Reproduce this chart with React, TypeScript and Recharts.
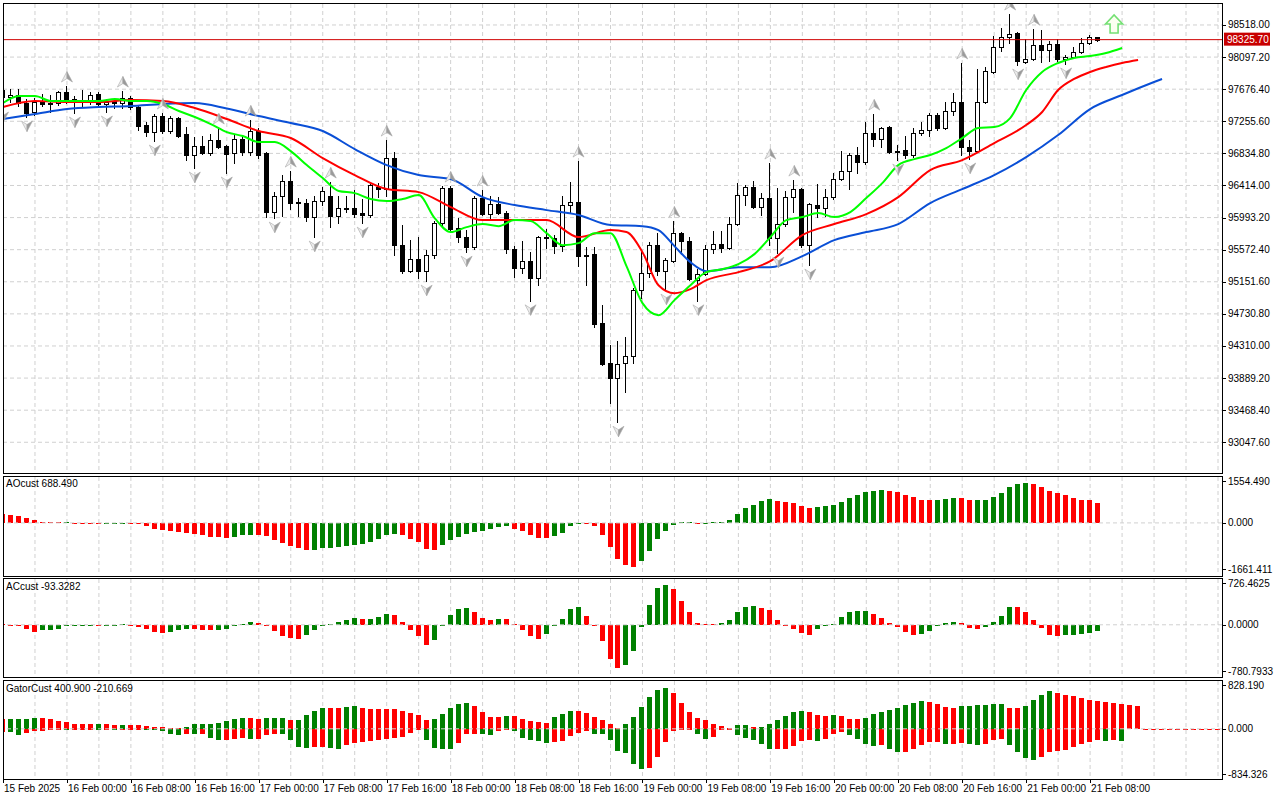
import React from 'react';
import { ComposedChart, Bar, Line, XAxis, YAxis, ReferenceLine, CartesianGrid } from 'recharts';

const FONT = '"Liberation Sans", Arial, Helvetica, sans-serif';

// ---------- hourly candles (15 Feb 16:00 ... 21 Feb 09:00) ----------
const barOpen = [
  97665, 97574, 97600, 97495, 97377, 97508, 97495, 97495, 97639, 97547,
  97534, 97534, 97613, 97482, 97521, 97495, 97560, 97442, 97206, 97114,
  97324, 97128, 97298, 97088, 96813, 96931, 96839, 97009, 96931, 96839,
  97022, 96852, 97128, 96839, 96065, 96275, 96472, 96196, 96183, 96000,
  96209, 96275, 96012, 96117, 96117, 96052, 96026, 96393, 96367, 96773,
  95634, 95299, 95456, 95299, 95501, 95921, 96380, 95855, 95737, 95604,
  96249, 96039, 96170, 96052, 95579, 95330, 95422, 95199, 95737, 95724,
  95619, 96157, 96196, 95501, 95514, 94609, 94084, 93887, 94084, 94176,
  95042, 95265, 95632, 95299, 95422, 95789, 95684, 95173, 95251, 95580,
  95645, 95593, 95908, 96288, 96393, 96130, 96249, 95724, 95908, 96262,
  96367, 95632, 96157, 96117, 96262, 96498, 96603, 96813, 96721, 97101,
  97022, 97180, 96865, 96878, 96813, 97101, 97141, 97337, 97167, 97390,
  97508, 96918, 96865, 97508, 97902, 98229, 98361, 98413, 98033, 98072,
  98256, 98190, 98269, 98072, 98098, 98164, 98282, 98354,
];
const barHigh = [
  97692, 97679, 97679, 97547, 97560, 97613, 97600, 97652, 97718, 97587,
  97665, 97639, 97639, 97547, 97560, 97652, 97587, 97455, 97246, 97350,
  97364, 97324, 97311, 97180, 97049, 97062, 97088, 97167, 96944, 97075,
  97075, 97272, 97167, 96852, 96327, 96550, 96603, 96249, 96236, 96275,
  96393, 96459, 96275, 96275, 96354, 96236, 96445, 96445, 97009, 96852,
  95894, 95698, 95737, 95566, 95947, 96406, 96406, 95986, 95829, 96275,
  96354, 96275, 96262, 96078, 95619, 95685, 95540, 95750, 95842, 95763,
  96275, 96459, 96734, 95606, 95606, 94845, 94320, 94373, 94425, 95068,
  95540, 95671, 95789, 95461, 95947, 95803, 95737, 95317, 95632, 95816,
  95816, 96000, 96445, 96419, 96472, 96314, 96708, 96380, 96341, 96485,
  96380, 96183, 96432, 96367, 96577, 96865, 96839, 96918, 97246, 97350,
  97180, 97193, 96944, 97062, 97167, 97246, 97364, 97364, 97508, 97626,
  98020, 97009, 97941, 97967, 98374, 98479, 98662, 98426, 98334, 98466,
  98452, 98308, 98334, 98125, 98229, 98348, 98387, 98361,
];
const barLow = [
  97429, 97508, 97455, 97311, 97337, 97455, 97377, 97469, 97495, 97364,
  97455, 97482, 97455, 97377, 97429, 97429, 97416, 97141, 97062, 96996,
  97101, 97101, 97049, 96747, 96642, 96826, 96813, 96905, 96577, 96708,
  96813, 96813, 96773, 95999, 95986, 96012, 96104, 96012, 95947, 95737,
  96157, 95868, 95920, 96065, 95999, 95920, 95999, 96262, 96275, 95501,
  95265, 95286, 95199, 95160, 95461, 95895, 95829, 95671, 95540, 95579,
  96026, 95986, 96039, 95527, 95212, 95265, 94902, 95107, 95593, 95527,
  95553, 96065, 95357, 95107, 94556, 94058, 93560, 93310, 93704, 94084,
  94937, 95212, 95238, 95042, 95409, 95527, 95173, 94902, 95238, 95527,
  95540, 95580, 95895, 96157, 96117, 96026, 95632, 95527, 95881, 96065,
  95606, 95370, 95999, 96012, 96236, 96485, 96367, 96577, 96695, 96931,
  96918, 96839, 96747, 96773, 96786, 97075, 97062, 97141, 97154, 97337,
  96813, 96760, 96852, 97495, 97888, 98177, 98282, 97993, 98020, 98059,
  98033, 98046, 98046, 98007, 98085, 98151, 98269, 98308,
];
const barClose = [
  97574, 97600, 97495, 97364, 97508, 97482, 97482, 97639, 97547, 97521,
  97521, 97600, 97482, 97508, 97495, 97560, 97442, 97193, 97114, 97324,
  97128, 97298, 97062, 96813, 96931, 96839, 97009, 96918, 96826, 97022,
  96852, 97128, 96813, 96065, 96275, 96472, 96183, 96183, 96000, 96209,
  96340, 96012, 96117, 96104, 96039, 96026, 96419, 96367, 96773, 95634,
  95299, 95456, 95299, 95501, 95921, 96380, 95842, 95737, 95604, 96249,
  96039, 96170, 96052, 95579, 95330, 95422, 95199, 95737, 95724, 95619,
  96157, 96196, 95488, 95495, 94596, 94071, 93887, 94071, 94176, 95042,
  95265, 95632, 95299, 95435, 95789, 95684, 95186, 95251, 95580, 95645,
  95593, 95908, 96288, 96393, 96130, 96249, 95724, 95908, 96262, 96367,
  95632, 96170, 96117, 96262, 96498, 96603, 96813, 96721, 97101, 97022,
  97167, 96852, 96852, 96813, 97101, 97141, 97337, 97167, 97390, 97508,
  96918, 96865, 97508, 97915, 98229, 98361, 98400, 98046, 98072, 98256,
  98190, 98269, 98072, 98098, 98164, 98282, 98361, 98325.7,
];

// ---------- alligator lines, read at sampled bars [bar, price] ----------
const lipsPoints: [number, number][] = [
  [0, 97495], [2, 97587], [4, 97587], [6, 97521], [8, 97521], [10, 97521], [12, 97521], [14, 97547],
  [16, 97521], [18, 97521], [20, 97482], [22, 97390], [24, 97311], [26, 97219], [28, 97114], [30, 97062],
  [32, 96983], [34, 96983], [36, 96865], [38, 96681], [40, 96511], [42, 96341], [44, 96314], [46, 96236],
  [48, 96209], [50, 96236], [52, 96288], [54, 95986], [56, 95803], [58, 95868], [60, 95908], [62, 95881],
  [64, 95960], [66, 95947], [68, 95789], [70, 95632], [72, 95658], [74, 95789], [76, 95789], [78, 95357],
  [80, 94871], [82, 94714], [84, 94911], [86, 95107], [88, 95278], [90, 95317], [92, 95383], [94, 95514],
  [96, 95737], [98, 95960], [100, 96000], [102, 96052], [104, 96000], [106, 96065], [108, 96249], [110, 96445],
  [112, 96681], [114, 96760], [116, 96813], [118, 96905], [120, 97036], [122, 97167], [124, 97180], [126, 97298],
  [128, 97665], [130, 97902], [132, 98020], [134, 98085], [136, 98111], [138, 98151], [140, 98216],
];
const teethPoints: [number, number][] = [
  [0, 97442], [4, 97521], [8, 97508], [12, 97508], [16, 97534], [20, 97521], [24, 97429], [28, 97285],
  [32, 97128], [36, 97036], [40, 96773], [44, 96550], [48, 96367], [52, 96327], [56, 96131], [60, 95960],
  [64, 95960], [68, 95960], [72, 95737], [76, 95829], [78, 95803], [80, 95540], [82, 95107], [84, 95002],
  [86, 95055], [88, 95173], [92, 95278], [96, 95422], [100, 95763], [104, 95908], [108, 96039], [112, 96262],
  [116, 96616], [120, 96747], [124, 96970], [128, 97206], [130, 97377], [132, 97665], [134, 97810], [136, 97902],
  [138, 97967], [140, 98020], [142, 98059],
];
const jawPoints: [number, number][] = [
  [0, 97285], [4, 97350], [8, 97416], [12, 97442], [16, 97455], [20, 97482], [24, 97495], [28, 97423],
  [32, 97324], [36, 97232], [40, 97128], [44, 96891], [48, 96681], [52, 96550], [56, 96498], [60, 96262],
  [64, 96157], [68, 96091], [72, 96026], [76, 95895], [80, 95881], [82, 95829], [84, 95619], [86, 95409],
  [88, 95291], [92, 95343], [96, 95343], [100, 95488], [104, 95698], [108, 95803], [112, 95908], [116, 96183],
  [120, 96367], [124, 96550], [128, 96786], [132, 97075], [136, 97416], [140, 97600], [144, 97770], [145, 97810],
];

const fractalUpBars = [8, 15, 20, 27, 31, 36, 41, 48, 56, 60, 72, 84, 96, 99, 109, 120, 126, 129];
const fractalDownBars = [0, 3, 9, 13, 19, 24, 28, 34, 39, 45, 53, 58, 66, 77, 83, 87, 97, 101, 112, 121, 127, 133];
const signalArrows = [{ bar: 139, price: 98413 }];
const currentPrice = 98325.7;

const priceTicks = [
  98518.0, 98097.2, 97676.4, 97255.6, 96834.8, 96414.0, 95993.2,
  95572.4, 95151.6, 94730.8, 94310.0, 93889.2, 93468.4, 93047.6,
];
const timeTickBars = [0, 8, 16, 24, 32, 40, 48, 56, 64, 72, 80, 88, 96, 104, 112, 120, 128, 136];
const timeLabels = [
  '15 Feb 2025', '16 Feb 00:00', '16 Feb 08:00', '16 Feb 16:00', '17 Feb 00:00', '17 Feb 08:00',
  '17 Feb 16:00', '18 Feb 00:00', '18 Feb 08:00', '18 Feb 16:00', '19 Feb 00:00', '19 Feb 08:00',
  '19 Feb 16:00', '20 Feb 00:00', '20 Feb 08:00', '20 Feb 16:00', '21 Feb 00:00', '21 Feb 08:00',
];

// ---------- indicator windows ----------
const aoValues = [
  300, 270, 240, 160, 90, 45, 25, 15, 18, 10,
  5, 3, -3, -2, 2, 4, -5, -40, -110, -190,
  -230, -290, -295, -330, -370, -400, -470, -475, -500, -470,
  -420, -400, -420, -440, -570, -680, -780, -860, -920, -910,
  -850, -840, -820, -780, -740, -720, -640, -550, -410, -370,
  -410, -530, -650, -880, -930, -750, -580, -470, -380, -310,
  -270, -220, -150, -120, -210, -260, -400, -500, -505, -440,
  -330, -120, -20, -30, -120, -400, -810, -1210, -1430, -1480,
  -1300, -960, -550, -285, -57, 15, 20, 10, 12, 15,
  35, 110, 300, 500, 610, 730, 800, 740, 720, 680,
  580, 510, 550, 560, 590, 720, 850, 930, 1030, 1090,
  1100, 1095, 1030, 930, 870, 790, 780, 790, 820, 840,
  830, 760, 765, 775, 870, 1000, 1210, 1310, 1340, 1310,
  1230, 1090, 1020, 950, 850, 780, 760, 688.49,
];
const acValues = [
  10, -5, -10, -59, -117, -85, -80, -59, -27, -25,
  -5, -3, -27, -25, -5, 10, -5, -43, -70, -107,
  -123, -107, -80, -59, -64, -80, -81, -75, -59, -5,
  5, 48, 32, -5, -91, -176, -203, -219, -160, -80,
  0, 16, 48, 69, 112, 85, 96, 128, 176, 160,
  48, -75, -176, -315, -240, 0, 160, 246, 262, 198,
  112, 80, 96, 90, 10, -80, -176, -224, -144, -11,
  96, 256, 288, 144, -5, -256, -539, -683, -635, -416,
  -43, 320, 577, 625, 560, 384, 208, 32, 16, 10,
  32, 80, 208, 283, 304, 272, 230, 80, -27, -59,
  -123, -160, -59, -5, 16, 128, 200, 215, 220, 171,
  101, 32, -43, -112, -160, -139, -96, -21, 27, 48,
  27, -53, -69, -43, 48, 144, 288, 285, 208, 80,
  -53, -160, -176, -168, -162, -150, -123, -93.3282,
];
const gatorUpper = [
  162, 173, 175, 177, 196, 179, 173, 144, 121, 87,
  86, 85, 88, 81, 69, 72, 68, 63, 52, 35,
  29, 17, 12, 35, 75, 87, 89, 98, 127, 173,
  190, 179, 176, 190, 192, 194, 156, 158, 248, 312,
  364, 362, 360, 381, 398, 364, 346, 344, 342, 335,
  312, 277, 242, 156, 173, 265, 364, 433, 450, 398,
  294, 208, 206, 225, 223, 173, 127, 110, 108, 208,
  260, 306, 300, 277, 208, 156, 75, 17, 92, 208,
  381, 554, 669, 710, 623, 450, 294, 179, 156, 87,
  46, 17, 69, 70, 35, 36, 87, 156, 225, 294,
  306, 294, 242, 225, 242, 225, 173, 171, 190, 260,
  294, 329, 364, 404, 450, 485, 467, 433, 381, 364,
  398, 400, 415, 417, 433, 435, 364, 362, 398, 502,
  589, 652, 629, 594, 565, 537, 502, 485, 456, 439,
  433, 415, 400.9,
];
const gatorLower = [
  -58, -60, -115, -75, -46, -45, -12, -11, -17, -16,
  -12, -11, -23, -12, -17, -16, -12, -11, -17, -29,
  -46, -87, -115, -92, -98, -96, -156, -202, -200, -179,
  -162, -173, -171, -115, -87, -98, -202, -312, -329, -317,
  -312, -329, -346, -277, -248, -231, -219, -190, -179, -156,
  -133, -75, -17, -196, -329, -346, -358, -248, -98, -81,
  -87, -110, -40, -17, -40, -156, -202, -213, -242, -231,
  -213, -127, -69, -40, -87, -98, -202, -387, -415, -617,
  -704, -675, -485, -231, -40, -23, -12, -81, -173, -133,
  -23, -22, -115, -156, -185, -271, -358, -356, -354, -306,
  -213, -185, -213, -173, -98, -58, -110, -173, -271, -290,
  -288, -358, -404, -402, -358, -288, -231, -229, -271, -269,
  -242, -271, -288, -271, -185, -173, -288, -404, -502, -542,
  -490, -404, -387, -375, -317, -271, -231, -196, -213, -202,
  -210.669,
];
const aoScale = { min: -1661.411, max: 1554.49, decimals: 3 };
const acScale = { min: -780.7933, max: 726.4625, decimals: 4 };
const gatorScale = { min: -834.326, max: 828.19, decimals: 3 };

const priceDomain: [number, number] = [92671, 98793];
const SLOTS = 153;
const xDomain: [number, number] = [0, 152.5];
const gridBars = Array.from({ length: 39 }, (_, i) => i * 4);

const GREEN = '#008000';
const RED = '#ff0000';
const GRID = '#d0d0d0';

// ---------- rows ----------
const lipsMap = Object.fromEntries(lipsPoints);
const teethMap = Object.fromEntries(teethPoints);
const jawMap = Object.fromEntries(jawPoints);
const sigMap = Object.fromEntries(signalArrows.map((s) => [s.bar, s.price]));

const mainRows = Array.from({ length: SLOTS }, (_, k) => {
  const has = k < barOpen.length;
  return {
    k,
    range: has ? [barLow[k], barHigh[k]] : null,
    open: has ? barOpen[k] : null,
    close: has ? barClose[k] : null,
    lips: lipsMap[k] ?? null,
    teeth: teethMap[k] ?? null,
    jaw: jawMap[k] ?? null,
    fu: fractalUpBars.includes(k) ? barHigh[k] : null,
    fd: fractalDownBars.includes(k) ? barLow[k] : null,
    sig: sigMap[k] ?? null,
  };
});

const colorOf = (arr: number[], i: number, useAbs = false) => {
  if (i <= 0) return RED;
  const a = useAbs ? Math.abs(arr[i]) : arr[i];
  const b = useAbs ? Math.abs(arr[i - 1]) : arr[i - 1];
  return a > b ? GREEN : RED;
};

const histRows = (vals: number[]) =>
  Array.from({ length: SLOTS }, (_, k) => ({
    k,
    v: k < vals.length ? vals[k] : null,
    c: k < vals.length ? colorOf(vals, k) : RED,
  }));

const aoRows = histRows(aoValues);
const acRows = histRows(acValues);
const gatorRows = Array.from({ length: SLOTS }, (_, k) => ({
  k,
  up: k < gatorUpper.length ? gatorUpper[k] : null,
  dn: k < gatorLower.length ? gatorLower[k] : null,
  cu: k < gatorUpper.length ? colorOf(gatorUpper, k) : RED,
  cd: k < gatorLower.length ? colorOf(gatorLower, k, true) : RED,
}));

// ---------- shapes ----------
const renderCandle = (p: any) => {
  const { x, y, width, height, payload } = p;
  if (!payload || payload.range == null || !isFinite(y) || !isFinite(height)) return <g />;
  const [lo, hi] = payload.range;
  const top = Math.min(y, y + height);
  const h = Math.abs(height);
  const toY = (v: number) => top + ((hi - v) / (hi - lo)) * h;
  const c = Math.floor(x + width / 2);
  const wx = c + 0.5;
  const left = c - 2;
  const yO = toY(payload.open);
  const yC = toY(payload.close);
  const bTop = Math.round(Math.min(yO, yC));
  const bBot = Math.round(Math.max(yO, yC));
  const bull = payload.close >= payload.open;
  return (
    <g shapeRendering="crispEdges">
      <line x1={wx} x2={wx} y1={Math.round(toY(hi))} y2={Math.round(toY(lo)) + 1} stroke="#000" strokeWidth={1} />
      {bBot - bTop < 1 ? (
        <line x1={left} x2={left + 5} y1={bTop + 0.5} y2={bTop + 0.5} stroke="#000" strokeWidth={1} />
      ) : (
        <rect x={left + 0.5} y={bTop + 0.5} width={4} height={bBot - bTop} fill={bull ? '#fff' : '#000'} stroke="#000" strokeWidth={1} />
      )}
    </g>
  );
};

const renderHist = (colorKey: string) => (p: any) => {
  const { x, y, width, height, payload } = p;
  if (!payload || !isFinite(y) || !isFinite(height) || payload[colorKey] == null) return <g />;
  const top = Math.round(Math.min(y, y + height));
  let bot = Math.round(Math.max(y, y + height));
  if (bot - top < 1) bot = top + 1;
  const c = Math.floor(x + width / 2);
  return <rect x={c - 2} y={top} width={5} height={bot - top} fill={payload[colorKey]} shapeRendering="crispEdges" />;
};

const FractalArrow = ({ cx, cy, up }: { cx: number; cy: number; up: boolean }) => {
  const s = up ? 1 : -1;
  const tip = cy - 5.5 * s;
  const base = cy + 5 * s;
  const notch = cy + 1.5 * s;
  return (
    <g>
      <path d={`M${cx},${tip} L${cx - 5.5},${base} L${cx},${notch} Z`} fill="#ececec" stroke="#a8a8a8" strokeWidth={0.6} />
      <path d={`M${cx},${tip} L${cx + 5.5},${base} L${cx},${notch} Z`} fill="#9a9a9a" stroke="#a8a8a8" strokeWidth={0.6} />
    </g>
  );
};

const fractalDot = (key: string, up: boolean) => (p: any) => {
  const { cx, cy, payload, index } = p;
  if (!payload || payload[key] == null || cy == null || !isFinite(cy)) return <g key={`${key}${index}`} />;
  return (
    <g key={`${key}${index}`}>
      <FractalArrow cx={cx} cy={up ? cy - 9 : cy + 9} up={up} />
    </g>
  );
};

const signalDot = (p: any) => {
  const { cx, cy, payload, index } = p;
  if (!payload || payload.sig == null || cy == null || !isFinite(cy)) return <g key={`sig${index}`} />;
  const d = `M${cx - 4},${cy} L${cx - 4},${cy - 9} L${cx - 8.5},${cy - 9} L${cx},${cy - 18} L${cx + 8.5},${cy - 9} L${cx + 4},${cy - 9} L${cx + 4},${cy} Z`;
  return (
    <g key={`sig${index}`}>
      <path d={d} fill="#fbfff0" stroke="#74e074" strokeWidth={1.6} strokeLinejoin="miter" />
    </g>
  );
};

const PriceTag = (props: any) => {
  const vb = props.viewBox || {};
  if (vb.x == null) return null;
  const x = vb.x + vb.width + 2;
  const y = vb.y;
  return (
    <g>
      <rect x={x} y={y - 7} width={46} height={13} fill="#c80000" />
      <text x={x + 3} y={y + 3.5} fill="#fff" fontSize={10} fontFamily={FONT}>
        {currentPrice.toFixed(2)}
      </text>
    </g>
  );
};

const makeAxisTick = (decimals: number, max?: number, min?: number) => (p: any) => {
  const { x, y, payload } = p;
  const v = payload.value as number;
  let yy = y;
  if (max !== undefined && Math.abs(v - max) < 1e-6) yy = y + 4;
  if (min !== undefined && Math.abs(v - min) < 1e-6) yy = y - 3;
  const ly = Math.round(yy) + 0.5;
  return (
    <g>
      <line x1={x - 6} x2={x - 2} y1={ly} y2={ly} stroke="#000" strokeWidth={1} />
      <text x={x} y={yy} dy={3.5} fontSize={10} fontFamily={FONT} fill="#000" textAnchor="start">
        {v.toFixed(decimals)}
      </text>
    </g>
  );
};

const renderTimeTick = (p: any) => {
  const { x, y, payload } = p;
  const i = timeTickBars.indexOf(payload.value);
  const label = i >= 0 ? timeLabels[i] : '';
  const px = Math.round(x) + 0.5;
  return (
    <g>
      <line x1={px} x2={px} y1={y + 2} y2={y + 6} stroke="#000" strokeWidth={1} />
      <text x={x + 1} y={y + 15} fontSize={10} fontFamily={FONT} fill="#000" textAnchor="start">
        {label}
      </text>
    </g>
  );
};

const Box = ({ top, bottom }: { top: number; bottom: number }) => (
  <div
    style={{
      position: 'absolute',
      left: 3,
      top,
      width: 1220,
      height: bottom - top + 1,
      border: '1px solid #000',
      boxSizing: 'border-box',
      pointerEvents: 'none',
    }}
  />
);

const Title = ({ top, text }: { top: number; text: string }) => (
  <div style={{ position: 'absolute', left: 6, top, fontSize: 10, fontFamily: FONT, color: '#000', lineHeight: '12px', whiteSpace: 'nowrap' }}>
    {text}
  </div>
);

const HistPanel = ({ top, height, rows, scale }: { top: number; height: number; rows: any[]; scale: { min: number; max: number; decimals: number } }) => (
  <div style={{ position: 'absolute', left: 0, top }}>
    <ComposedChart width={1280} height={height} data={rows} margin={{ top: 1, right: 0, bottom: 4, left: 3 }}>
      <CartesianGrid horizontal={false} verticalValues={gridBars} stroke={GRID} strokeDasharray="4 3" />
      <XAxis dataKey="k" type="number" domain={xDomain} ticks={gridBars} interval={0} hide />
      <YAxis
        orientation="right"
        width={58}
        type="number"
        domain={[scale.min, scale.max]}
        ticks={[scale.max, 0, scale.min]}
        interval={0}
        tickSize={4}
        tickMargin={2}
        tickLine={false}
        axisLine={false}
        tick={makeAxisTick(scale.decimals, scale.max, scale.min)}
        allowDataOverflow
      />
      <ReferenceLine y={0} stroke={GRID} strokeDasharray="4 3" />
      <Bar dataKey="v" barSize={5} shape={renderHist('c')} isAnimationActive={false} />
    </ComposedChart>
  </div>
);

export default function App() {
  return (
    <div style={{ position: 'absolute', left: 0, top: 0, width: 1280, height: 800, background: '#fff', fontFamily: FONT, overflow: 'hidden' }}>
      {/* main price window */}
      <div style={{ position: 'absolute', left: 0, top: 0 }}>
        <ComposedChart width={1280} height={475} data={mainRows} margin={{ top: 4, right: 0, bottom: 4, left: 3 }}>
          <CartesianGrid verticalValues={gridBars} horizontalValues={priceTicks} stroke={GRID} strokeDasharray="4 3" />
          <XAxis dataKey="k" type="number" domain={xDomain} ticks={gridBars} interval={0} hide />
          <YAxis
            orientation="right"
            width={58}
            type="number"
            domain={priceDomain}
            ticks={priceTicks}
            interval={0}
            tickSize={4}
            tickMargin={2}
            tickLine={false}
            axisLine={false}
            tick={makeAxisTick(2)}
            allowDataOverflow
          />
          <Bar dataKey="range" barSize={5} shape={renderCandle} isAnimationActive={false} />
          <Line dataKey="jaw" type="monotone" connectNulls stroke="#0a4fd6" strokeWidth={2} dot={false} activeDot={false} isAnimationActive={false} />
          <Line dataKey="teeth" type="monotone" connectNulls stroke="#ff0000" strokeWidth={2} dot={false} activeDot={false} isAnimationActive={false} />
          <Line dataKey="lips" type="monotone" connectNulls stroke="#00ff00" strokeWidth={2} dot={false} activeDot={false} isAnimationActive={false} />
          <ReferenceLine y={currentPrice} stroke="#d00000" strokeWidth={1} label={<PriceTag />} />
          <Line dataKey="fu" stroke="none" dot={fractalDot('fu', true)} activeDot={false} isAnimationActive={false} />
          <Line dataKey="fd" stroke="none" dot={fractalDot('fd', false)} activeDot={false} isAnimationActive={false} />
          <Line dataKey="sig" stroke="none" dot={signalDot} activeDot={false} isAnimationActive={false} />
        </ComposedChart>
      </div>

      <HistPanel top={476} height={100} rows={aoRows} scale={aoScale} />
      <HistPanel top={578} height={100} rows={acRows} scale={acScale} />

      {/* gator window with time axis */}
      <div style={{ position: 'absolute', left: 0, top: 680 }}>
        <ComposedChart width={1280} height={120} data={gatorRows} stackOffset="sign" margin={{ top: 1, right: 0, bottom: 0, left: 3 }}>
          <CartesianGrid horizontal={false} verticalValues={gridBars} stroke={GRID} strokeDasharray="4 3" />
          <XAxis
            dataKey="k"
            type="number"
            domain={xDomain}
            ticks={timeTickBars}
            interval={0}
            height={23}
            tickSize={0}
            tickMargin={0}
            tickLine={false}
            axisLine={false}
            tick={renderTimeTick}
          />
          <YAxis
            orientation="right"
            width={58}
            type="number"
            domain={[gatorScale.min, gatorScale.max]}
            ticks={[gatorScale.max, 0, gatorScale.min]}
            interval={0}
            tickSize={4}
            tickMargin={2}
            tickLine={false}
            axisLine={false}
            tick={makeAxisTick(gatorScale.decimals, gatorScale.max, gatorScale.min)}
            allowDataOverflow
          />
          <ReferenceLine y={0} stroke={GRID} strokeDasharray="4 3" />
          <Bar dataKey="up" stackId="g" barSize={5} shape={renderHist('cu')} isAnimationActive={false} />
          <Bar dataKey="dn" stackId="g" barSize={5} shape={renderHist('cd')} isAnimationActive={false} />
        </ComposedChart>
      </div>

      {/* mask marks that spill past the left frame edge */}
      <div style={{ position: 'absolute', left: 0, top: 0, width: 3, height: 780, background: '#fff' }} />

      <Box top={3} bottom={473} />
      <Box top={476} bottom={576} />
      <Box top={578} bottom={677} />
      <Box top={680} bottom={779} />

      <Title top={478} text={`AOcust ${aoValues[aoValues.length - 1].toFixed(3)}`} />
      <Title top={581} text={`ACcust ${acValues[acValues.length - 1].toFixed(4)}`} />
      <Title top={683} text={`GatorCust ${gatorUpper[gatorUpper.length - 1].toFixed(3)} ${gatorLower[gatorLower.length - 1].toFixed(3)}`} />
    </div>
  );
}
